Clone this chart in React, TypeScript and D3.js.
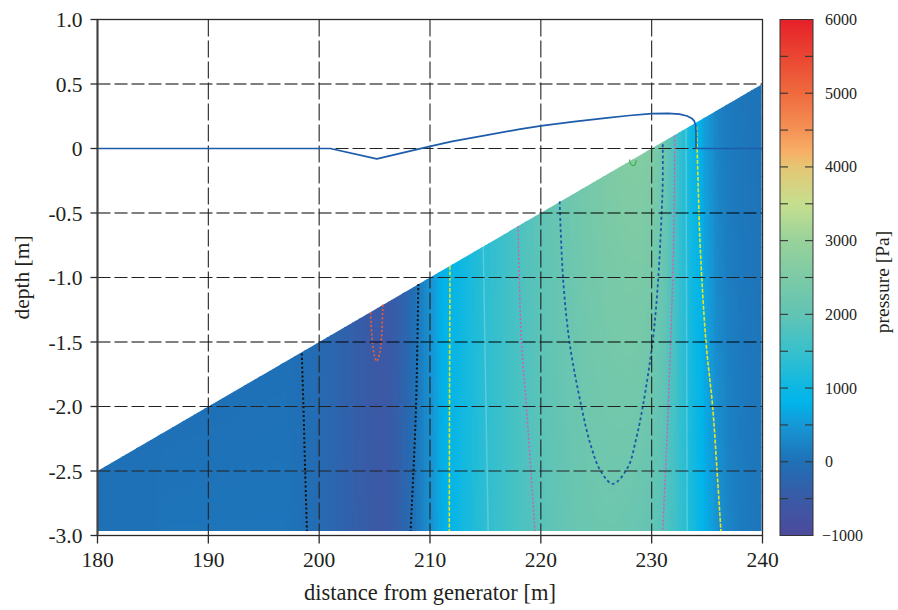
import React from "react";
import * as d3 from "d3";

// Stations along the flume (m) where pressure was sampled
const stationX = [
  180, 181, 182, 183, 184, 185, 186, 187, 188, 189, 190, 191, 192, 193, 194, 195, 196, 197,
  198, 199, 200, 201, 202, 203, 204, 205, 206, 207, 208, 209, 210, 211, 212, 213, 214, 215,
  216, 217, 218, 219, 220, 221, 222, 223, 224, 225, 226, 227, 228, 229, 230, 231, 232, 233,
  234, 235, 236, 237, 238, 239, 240,
];

// Pressure (Pa) along the sloping bed
const pressureUpper = [
  10, 10, 10, 10, 10, 10, 10, 10, 10, 10, 10, 10, 10, 10, 10, 10, 10, 10,
  -20, -60, -120, -200, -290, -380, -460, -530, -540, -420, -200, 120, 420, 760, 920, 1050, 1200, 1350,
  1480, 1600, 1720, 1850, 1960, 2060, 2160, 2250, 2340, 2420, 2500, 2560, 2620, 2640, 2560, 2250, 1750, 1250,
  880, 500, 220, 110, 70, 50, 40,
];

// Pressure (Pa) at the base of the domain
const pressureLower = [
  10, 10, 10, 10, 10, 10, 60, 60, 60, 60, 60, 60, 60, 60, 60, 60, 60, 60,
  20, -30, -110, -190, -280, -370, -440, -500, -520, -380, -160, 150, 400, 700, 900, 1080, 1230, 1380,
  1500, 1600, 1700, 1800, 1880, 1960, 2040, 2110, 2160, 2190, 2200, 2190, 2160, 2100, 2000, 1850, 1620, 1350,
  1050, 700, 420, 250, 150, 100, 80,
];

// Bed profile end points (x, elevation)
const bedX = [180, 240];
const bedZ = [-2.5, 0.5];
const baseZ = -2.965;
const fieldRightX = 239.92;

// Colour scale for pressure
const cmapValues = [-1000, -500, 0, 500, 800, 1000, 1500, 2000, 2500, 3000, 3500, 4000, 4200, 4500, 5000, 5500, 6000];
const cmapColors = [
  "#4d4a9c", "#3a5aa6", "#1f70b6", "#1698d6", "#00b4ea", "#0cb7e3", "#38c0cc", "#62c4b4",
  "#7ccaa6", "#98d29a", "#c6df8e", "#e4c674", "#f8b066", "#f59256", "#ef6a3e", "#ea4632", "#e6202a",
];

// Free surface elevation (x, z)
const surfaceLine: [number, number][] = [
  [180, 0], [201.0, 0], [205.2, -0.08], [209.8, 0.012], [212, 0.055], [215, 0.102], [218, 0.148],
  [220, 0.176], [223, 0.208], [226, 0.237], [228, 0.256], [230, 0.27], [231.5, 0.273], [232.5, 0.267],
  [233.2, 0.252], [233.6, 0.235], [233.85, 0.212], [233.97, 0.18], [234.0, 0.12], [234.0, 0.0], [240, 0.0],
];

// Iso-lines (x, z)
const blackLeft: [number, number][] = [[198.43, -1.59], [198.58, -2.0], [198.74, -2.51], [198.9, -2.965]];
const blackRight: [number, number][] = [[208.95, -1.05], [208.86, -1.5], [208.74, -2.0], [208.5, -2.51], [208.25, -2.965]];
const redLoop: [number, number][] = [[204.64, -1.27], [204.8, -1.5], [204.98, -1.6], [205.2, -1.65], [205.42, -1.6], [205.6, -1.5], [205.74, -1.21]];
const yellowLeft: [number, number][] = [[211.8, -0.91], [211.78, -1.5], [211.76, -2.0], [211.74, -2.965]];
const yellowRight: [number, number][] = [[234.05, 0.17], [234.2, -0.3], [234.4, -0.8], [234.9, -1.5], [235.5, -2.0], [235.9, -2.5], [236.25, -2.965]];
const pinkLeft: [number, number][] = [[217.95, -0.6], [218.05, -1.0], [218.26, -1.51], [218.7, -2.0], [219.1, -2.5], [219.46, -2.965]];
const pinkRight: [number, number][] = [[232.07, 0.1], [232.07, -0.25], [231.9, -1.0], [231.5, -2.0], [231.25, -2.5], [231.0, -2.965]];
const blueLoop: [number, number][] = [
  [221.7, -0.41], [222.0, -1.0], [222.6, -1.51], [223.66, -2.0], [224.5, -2.3], [225.4, -2.5], [226.5, -2.6],
  [227.86, -2.47], [228.6, -2.25], [229.2, -2.0], [230.1, -1.49], [230.6, -1.0], [230.9, -0.5], [231.0, -0.25], [231.0, 0.04],
];
const greenLoop: [number, number][] = [[228.0, -0.085], [228.15, -0.125], [228.45, -0.13], [228.6, -0.09]];
const faintLeft: [number, number][] = [[214.8, -0.75], [215.25, -2.965]];
const faintRight: [number, number][] = [[233.1, 0.15], [233.2, -2.965]];

// Axis ticks
const xTicks = [180, 190, 200, 210, 220, 230, 240];
const yTicks = [1.0, 0.5, 0, -0.5, -1.0, -1.5, -2.0, -2.5, -3.0];
const cbarMajor = [6000, 5000, 4000, 3000, 2000, 1000, 0, -1000];
const cbarLabels = ["6000", "5000", "4000", "3000", "2000", "1000", "0", "\u22121000"];

const FONT = "'Liberation Serif', 'Times New Roman', serif";
const TXT = "#231f20";

const L = 97.5, R = 762.5, T = 19.5, B = 535.5;
const CB_L = 780, CB_R = 813;

export default function App() {
  const xs = d3.scaleLinear().domain([180, 240]).range([L, R]);
  const ys = d3.scaleLinear().domain([-3, 1]).range([B, T]);
  const bed = d3.scaleLinear().domain(bedX).range(bedZ);
  const upper = d3.scaleLinear().domain(stationX).range(pressureUpper);
  const lower = d3.scaleLinear().domain(stationX).range(pressureLower);
  const color = d3
    .scaleLinear<string>()
    .domain(cmapValues)
    .range(cmapColors)
    .interpolate(d3.interpolateRgb)
    .clamp(true);
  const cbY = d3.scaleLinear().domain([-1000, 6000]).range([B, T]);

  // pressure field cells
  const cells: React.ReactElement[] = [];
  const dx = 0.25;
  const dz = 0.05;
  for (let x0 = 180; x0 < fieldRightX - 1e-9; x0 += dx) {
    const x1 = Math.min(x0 + dx, fieldRightX);
    const xc = (x0 + x1) / 2;
    const zTop = bed(x1);
    const zb = bed(xc);
    const pu = upper(xc);
    const pl = lower(xc);
    for (let z0 = baseZ; z0 < zTop; z0 += dz) {
      const z1 = Math.min(z0 + dz, zTop + dz);
      const zc = Math.min((z0 + z1) / 2, zb);
      const t = Math.max(0, Math.min(1, (zb - zc) / (zb - baseZ)));
      const v = pu + (pl - pu) * t;
      cells.push(
        <rect
          key={`${x0.toFixed(2)}_${z0.toFixed(2)}`}
          x={xs(x0)}
          y={ys(z1)}
          width={xs(x1) - xs(x0) + 0.4}
          height={ys(z0) - ys(z1) + 0.4}
          fill={color(v)}
        />
      );
    }
  }

  const clipPts = [
    [180, bed(180)],
    [fieldRightX, bed(fieldRightX)],
    [fieldRightX, baseZ],
    [180, baseZ],
  ]
    .map(([x, z]) => `${xs(x)},${ys(z)}`)
    .join(" ");

  const smooth = d3
    .line<[number, number]>()
    .x((d) => xs(d[0]))
    .y((d) => ys(d[1]))
    .curve(d3.curveCatmullRom.alpha(0.5));
  const straight = d3
    .line<[number, number]>()
    .x((d) => xs(d[0]))
    .y((d) => ys(d[1]));

  const gridDark = "#222";
  const hGrid = yTicks.filter((v) => v < 1 && v > -3);
  const vGrid = xTicks.filter((v) => v > 180 && v < 240);
  const grayRows = new Set([0.5, -0.5, -1.5]);

  const gradStops = d3.range(-1000, 6001, 100);

  const fmtY = (v: number) => (v === 0 ? "0" : `${v < 0 ? "-" : ""}${Math.abs(v).toFixed(1)}`);

  return (
    <svg
      width={898}
      height={610}
      viewBox="0 0 898 610"
      style={{ position: "absolute", left: 0, top: 0, background: "#fff" }}
      fontFamily={FONT}
    >
      <defs>
        <clipPath id="fieldClip">
          <polygon points={clipPts} />
        </clipPath>
        <linearGradient id="cbarGrad" x1="0" y1="1" x2="0" y2="0">
          {gradStops.map((v) => (
            <stop key={v} offset={(v + 1000) / 7000} stopColor={color(v)} />
          ))}
        </linearGradient>
      </defs>

      <rect x={0} y={0} width={898} height={610} fill="#fff" />

      {/* pressure field */}
      <g clipPath="url(#fieldClip)" shapeRendering="crispEdges">{cells}</g>

      {/* iso-lines */}
      <g fill="none">
        <path d={straight(faintLeft) || ""} stroke="rgba(200,240,245,0.3)" strokeWidth={1.4} />
        <path d={straight(faintRight) || ""} stroke="rgba(200,240,245,0.3)" strokeWidth={1.4} />
        <path d={smooth(blackLeft) || ""} stroke="#111" strokeWidth={2} strokeDasharray="2 2.4" />
        <path d={smooth(blackRight) || ""} stroke="#111" strokeWidth={2} strokeDasharray="2 2.4" />
        <path d={smooth(redLoop) || ""} stroke="#e2603c" strokeWidth={1.6} strokeDasharray="2.2 2" />
        <path d={smooth(yellowLeft) || ""} stroke="#e8e41e" strokeWidth={1.6} strokeDasharray="4 1.6" />
        <path d={smooth(yellowRight) || ""} stroke="#e8e41e" strokeWidth={1.6} strokeDasharray="4 1.6" />
        <path d={smooth(pinkLeft) || ""} stroke="#d05eb4" strokeWidth={1.5} strokeDasharray="2 2" />
        <path d={smooth(pinkRight) || ""} stroke="#d05eb4" strokeWidth={1.5} strokeDasharray="2 2" />
        <path d={smooth(blueLoop) || ""} stroke="#1f58a8" strokeWidth={1.8} strokeDasharray="3 2.6" />
        <path d={smooth(greenLoop) || ""} stroke="#3fae44" strokeWidth={1.2} />
      </g>

      {/* grid */}
      <g fill="none">
        {hGrid.map((v) =>
          grayRows.has(v) ? (
            <line key={`h${v}`} x1={L} x2={R} y1={ys(v)} y2={ys(v)} stroke="#000" strokeOpacity={0.5} strokeWidth={2} strokeDasharray="13 4" />
          ) : (
            <line key={`h${v}`} x1={L} x2={R} y1={ys(v)} y2={ys(v)} stroke={gridDark} strokeWidth={1.1} strokeDasharray="13 4" />
          )
        )}
        {vGrid.map((v) => (
          <line key={`v${v}`} x1={xs(v)} x2={xs(v)} y1={T} y2={B} stroke={gridDark} strokeWidth={1.1} strokeDasharray="17 4" />
        ))}
      </g>

      {/* free surface */}
      <path d={straight(surfaceLine) || ""} fill="none" stroke="#1c5caa" strokeWidth={1.7} strokeLinejoin="round" />

      {/* frame */}
      <rect x={L} y={T} width={R - L} height={B - T} fill="none" stroke="#2a2a2a" strokeWidth={1.3} />
      <line x1={L} x2={L} y1={T} y2={B} stroke="#444" strokeWidth={2} />

      {/* y axis */}
      <g>
        {yTicks.map((v) => (
          <g key={`yt${v}`}>
            <line x1={L - 7} x2={L} y1={ys(v)} y2={ys(v)} stroke="#2a2a2a" strokeWidth={1.3} />
            <text x={L - 15} y={ys(v) + 7.5} textAnchor="end" fontSize={21.5} fill={TXT}>
              {fmtY(v)}
            </text>
          </g>
        ))}
        <text
          transform={`translate(29, ${(T + B) / 2}) rotate(-90)`}
          textAnchor="middle"
          fontSize={21.5}
          fill={TXT}
        >
          depth [m]
        </text>
      </g>

      {/* x axis */}
      <g>
        {xTicks.map((v) => (
          <g key={`xt${v}`}>
            <line x1={xs(v)} x2={xs(v)} y1={B} y2={B + 8} stroke="#2a2a2a" strokeWidth={1.3} />
            <text x={xs(v)} y={567} textAnchor="middle" fontSize={21.5} fill={TXT}>
              {v}
            </text>
          </g>
        ))}
        <text x={(L + R) / 2} y={600} textAnchor="middle" fontSize={22.5} fill={TXT}>
          distance from generator [m]
        </text>
      </g>

      {/* colour bar */}
      <g>
        <rect x={CB_L} y={T} width={CB_R - CB_L} height={B - T} fill="url(#cbarGrad)" stroke="#333" strokeWidth={1} />
        {d3.range(-500, 6000, 500).map((v) => (
          <g key={`cbt${v}`}>
            <line x1={CB_L} x2={CB_L + 8} y1={cbY(v)} y2={cbY(v)} stroke="#333" strokeWidth={1.1} />
            <line x1={CB_R - 8} x2={CB_R} y1={cbY(v)} y2={cbY(v)} stroke="#333" strokeWidth={1.1} />
          </g>
        ))}
        {cbarMajor.map((v, i) => (
          <text
            key={`cbl${v}`}
            x={v < 0 ? 822 : 825}
            y={cbY(v) + 5.5}
            fontSize={16}
            fill={TXT}
          >
            {cbarLabels[i]}
          </text>
        ))}
        <text
          transform={`translate(889, 282) rotate(-90)`}
          textAnchor="middle"
          fontSize={19.5}
          fill={TXT}
        >
          pressure [Pa]
        </text>
      </g>
    </svg>
  );
}
